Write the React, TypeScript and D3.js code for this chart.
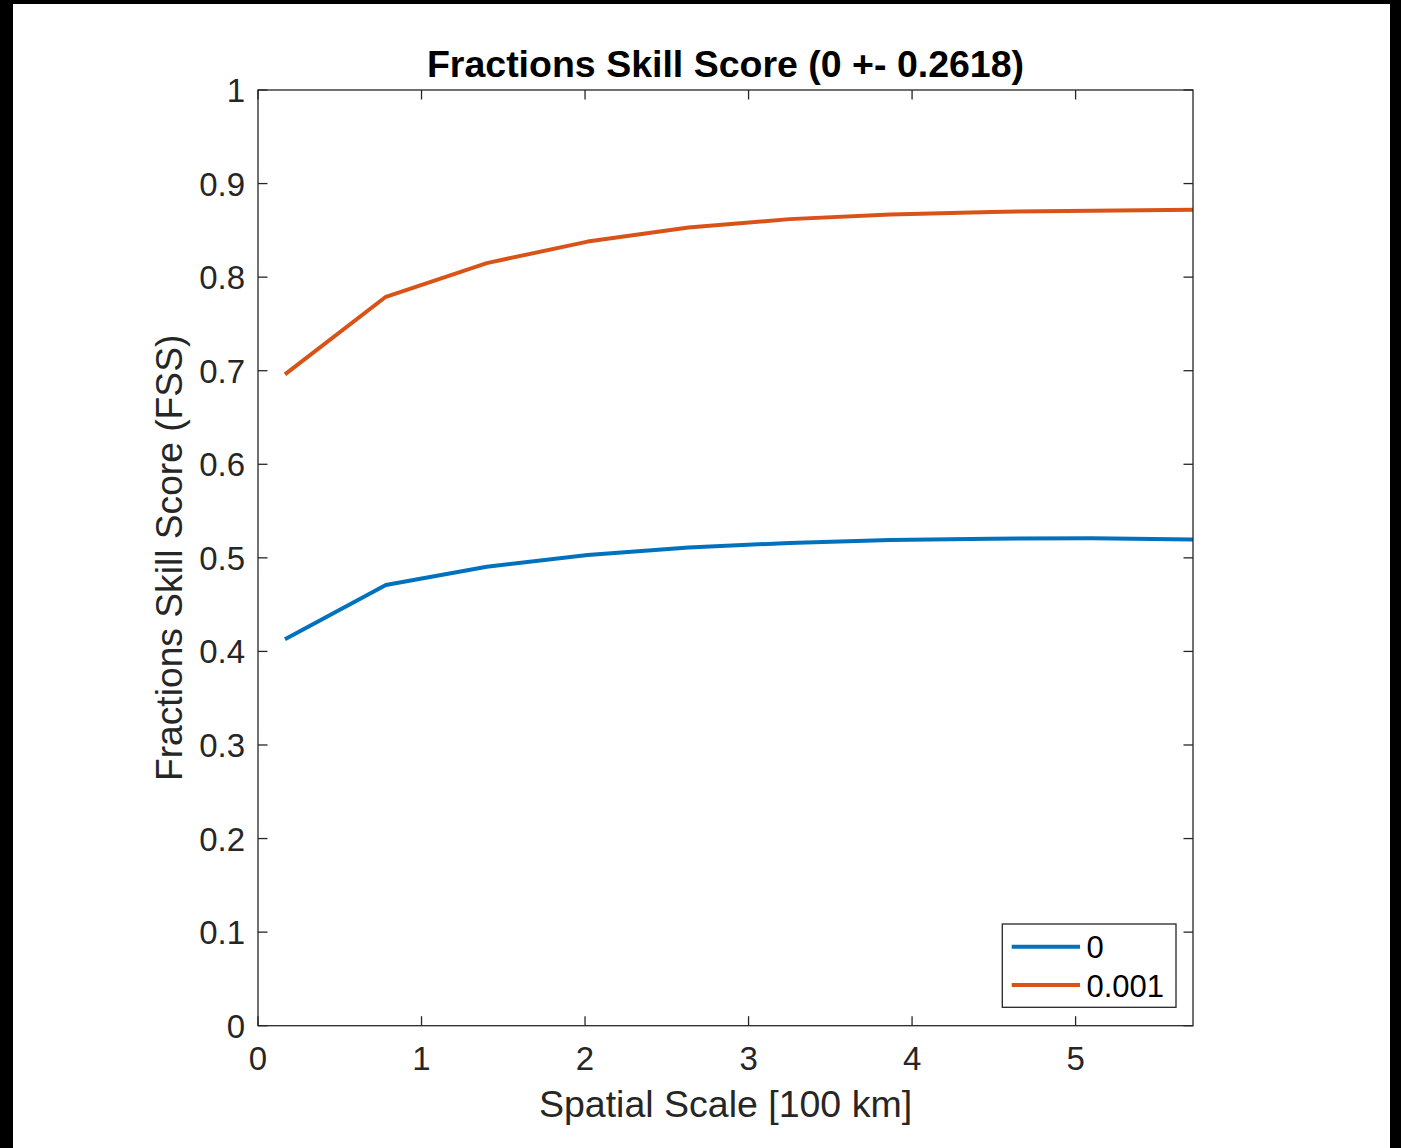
import React from "react";
import * as d3 from "d3";

const xValues = [0.165, 0.782, 1.399, 2.016, 2.633, 3.25, 3.867, 4.484, 5.101, 5.718];
const series0 = [0.413, 0.471, 0.4905, 0.503, 0.511, 0.516, 0.519, 0.5205, 0.521, 0.5195];
const series001 = [0.696, 0.779, 0.815, 0.838, 0.853, 0.862, 0.867, 0.8697, 0.871, 0.872];
const seriesNames = ["0", "0.001"];
const seriesColors = ["#0072BD", "#D95319"];
const xTicks = [0, 1, 2, 3, 4, 5];
const yTicks = [0, 0.1, 0.2, 0.3, 0.4, 0.5, 0.6, 0.7, 0.8, 0.9, 1];

const W = 1401;
const H = 1148;
const left = 258;
const right = 1193;
const top = 90;
const bottom = 1025.7;
const font = "'Liberation Sans', Arial, Helvetica, sans-serif";
const axisColor = "#262626";

export default function App() {
  const x = d3.scaleLinear().domain([0, xValues[xValues.length - 1]]).range([left, right]);
  const y = d3.scaleLinear().domain([0, 1]).range([bottom, top]);
  const line = d3
    .line<number>()
    .x((_, i) => x(xValues[i]))
    .y((d) => y(d));
  const allSeries = [series0, series001];
  const tickLen = 9.5;

  return (
    <svg
      width={W}
      height={H}
      style={{ position: "absolute", left: 0, top: 0, display: "block" }}
    >
      <rect x={0} y={0} width={W} height={H} fill="#000" />
      <rect x={13} y={4} width={1390 - 13} height={H - 4} fill="#fff" />

      <defs>
        <clipPath id="clip">
          <rect x={left} y={top} width={right - left} height={bottom - top} />
        </clipPath>
      </defs>

      {/* lines */}
      <g clipPath="url(#clip)">
        {allSeries.map((s, i) => (
          <path key={i} d={line(s) || ""} fill="none" stroke={seriesColors[i]} strokeWidth={4} strokeLinejoin="round" />
        ))}
      </g>

      {/* axes box */}
      <rect x={left} y={top} width={right - left} height={bottom - top} fill="none" stroke={axisColor} strokeWidth={1.3} />

      {/* x ticks */}
      {xTicks.map((t) => (
        <g key={"x" + t}>
          <line x1={x(t)} x2={x(t)} y1={bottom} y2={bottom - tickLen} stroke={axisColor} strokeWidth={1.3} />
          <line x1={x(t)} x2={x(t)} y1={top} y2={top + tickLen} stroke={axisColor} strokeWidth={1.3} />
          <text x={x(t)} y={1069.5} textAnchor="middle" fontFamily={font} fontSize={33} fill={axisColor}>
            {d3.format("d")(t)}
          </text>
        </g>
      ))}

      {/* y ticks */}
      {yTicks.map((t) => (
        <g key={"y" + t}>
          <line x1={left} x2={left + tickLen} y1={y(t)} y2={y(t)} stroke={axisColor} strokeWidth={1.3} />
          <line x1={right} x2={right - tickLen} y1={y(t)} y2={y(t)} stroke={axisColor} strokeWidth={1.3} />
          <text x={245} y={y(t) + 12} textAnchor="end" fontFamily={font} fontSize={33} fill={axisColor}>
            {t === 0 || t === 1 ? String(t) : d3.format(".1f")(t)}
          </text>
        </g>
      ))}

      {/* title */}
      <text x={(left + right) / 2} y={77} textAnchor="middle" fontFamily={font} fontWeight="bold" fontSize={37.5} fill="#000">
        Fractions Skill Score (0 +- 0.2618)
      </text>

      {/* x label */}
      <text x={(left + right) / 2} y={1117} textAnchor="middle" fontFamily={font} fontSize={37.5} fill={axisColor}>
        Spatial Scale [100 km]
      </text>

      {/* y label */}
      <text
        transform={`translate(182, ${(top + bottom) / 2}) rotate(-90)`}
        textAnchor="middle"
        fontFamily={font}
        fontSize={37.2}
        fill={axisColor}
      >
        Fractions Skill Score (FSS)
      </text>

      {/* legend */}
      <g>
        <rect x={1002.3} y={924} width={1176 - 1002.3} height={1007.3 - 924} fill="#fff" stroke={axisColor} strokeWidth={1.3} />
        {seriesNames.map((n, i) => {
          const ly = i === 0 ? 946.7 : 985;
          return (
            <g key={n}>
              <line x1={1011.7} x2={1080} y1={ly} y2={ly} stroke={seriesColors[i]} strokeWidth={4} />
              <text x={1086.5} y={ly + 11.5} fontFamily={font} fontSize={31} fill="#000">
                {n}
              </text>
            </g>
          );
        })}
      </g>
    </svg>
  );
}
